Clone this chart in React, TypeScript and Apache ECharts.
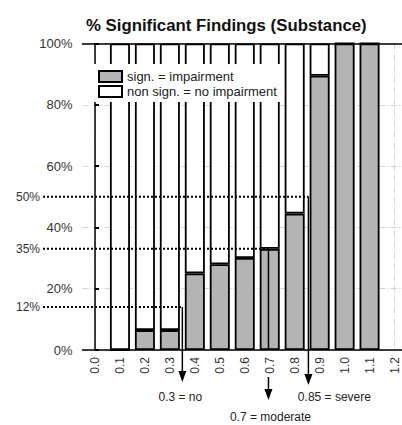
import React, { useEffect, useRef } from "react";
import * as echarts from "echarts";

const categories = ["0.0", "0.1", "0.2", "0.3", "0.4", "0.5", "0.6", "0.7", "0.8", "0.9", "1.0", "1.1", "1.2"];
const significant = [null, 0, 6.5, 6.5, 25, 28, 30, 33, 44.5, 89.5, 100, 100, null];
const nonSignificant = [null, 100, 93.5, 93.5, 75, 72, 70, 67, 55.5, 10.5, 0, 0, null];

const thresholdLabels = ["12%", "35%", "50%"];
const thresholdLevels = [14, 33, 50];
const cutoffNames = ["0.3 = no", "0.7 = moderate", "0.85 = severe"];
const cutoffPositions = [0.35, 0.695, 0.855];

const FONT = "'Liberation Sans', Arial, sans-serif";

export default function App() {
  const ref = useRef<HTMLDivElement>(null);

  useEffect(() => {
    if (!ref.current) return;
    const chart = echarts.init(ref.current, undefined, { renderer: "svg" });
    const gridLine = { show: true, lineStyle: { color: "#d4d4d4", width: 1, type: [6, 2, 1, 2] } };
    chart.setOption({
      animation: false,
      backgroundColor: "#fff",
      textStyle: { fontFamily: FONT },
      title: {
        text: "% Significant Findings (Substance)",
        left: 81,
        top: 12,
        textStyle: { fontSize: 16.8, fontWeight: "bold", color: "#111", fontFamily: FONT },
      },
      legend: {
        left: 88,
        top: 64,
        orient: "vertical",
        itemWidth: 23,
        itemHeight: 11,
        itemGap: 2,
        padding: [6, 4, 4, 10],
        backgroundColor: "#fff",
        icon: "rect",
        textStyle: { fontSize: 13, color: "#222", fontFamily: FONT },
        data: ["sign. = impairment", "non sign. = no impairment"],
      },
      grid: { left: 82.5, right: 3, top: 43.5, bottom: 75, containLabel: false },
      xAxis: [
        {
          type: "category",
          data: categories,
          position: "bottom",
          boundaryGap: true,
          axisLine: { lineStyle: { color: "#000", width: 1.5 } },
          axisTick: { inside: true, length: 4, alignWithLabel: true, lineStyle: { color: "#000", width: 2 } },
          axisLabel: { rotate: 90, fontSize: 12, color: "#333", margin: 7, fontFamily: FONT },
          splitLine: { ...gridLine, alignWithLabel: true },
        },
        {
          type: "category",
          data: categories,
          position: "top",
          boundaryGap: true,
          axisLine: { lineStyle: { color: "#000", width: 1.5 } },
          axisTick: { inside: true, length: 4, alignWithLabel: true, lineStyle: { color: "#000", width: 2 } },
          axisLabel: { show: false },
          splitLine: { show: false },
        },
        { type: "value", min: -0.05, max: 1.25, show: false },
      ],
      yAxis: [
        {
          type: "value",
          min: 0,
          max: 100,
          interval: 20,
          axisLine: { show: true, lineStyle: { color: "#000", width: 1.5 } },
          axisTick: { show: true, inside: true, length: 4, lineStyle: { color: "#000", width: 2 } },
          axisLabel: { formatter: "{value}%", fontSize: 13, color: "#333", margin: 10, fontFamily: FONT },
          splitLine: gridLine,
        },
      ],
      series: [
        {
          name: "sign. = impairment",
          type: "bar",
          stack: "a",
          barWidth: 20,
          data: significant,
          itemStyle: { color: "#b4b4b4", borderColor: "#000", borderWidth: 1.8 },
        },
        {
          name: "non sign. = no impairment",
          type: "bar",
          stack: "a",
          barWidth: 20,
          data: nonSignificant,
          itemStyle: { color: "#fff", borderColor: "#000", borderWidth: 1.8 },
        },
      ],
    });

    const y0 = chart.convertToPixel({ yAxisIndex: 0 }, 0) as number;
    const belowStart = [0, 27, 0];
    const tipOffset = [32, 50, 35];
    const labelDy = [47, 67, 47];
    const labelDx = [-2, 2, 26];
    const elements: any[] = [];
    thresholdLevels.forEach((lv, i) => {
      const y = chart.convertToPixel({ yAxisIndex: 0 }, lv) as number;
      const x = chart.convertToPixel({ xAxisIndex: 2 }, cutoffPositions[i]) as number;
      elements.push({
        type: "text",
        x: 40,
        y,
        z: 100,
        style: { text: thresholdLabels[i], align: "right", verticalAlign: "middle", fill: "#333", font: `12px ${FONT}` },
      });
      elements.push({
        type: "line",
        z: 100,
        shape: { x1: 43, y1: y, x2: x, y2: y },
        style: { stroke: "#000", lineWidth: 2, lineDash: [2, 2] },
      });
      elements.push({
        type: "line",
        z: 100,
        shape: { x1: x, y1: y, x2: x, y2: y0 },
        style: { stroke: "#000", lineWidth: 1.5 },
      });
      const tip = y0 + tipOffset[i];
      elements.push({
        type: "line",
        z: 100,
        shape: { x1: x, y1: y0 + belowStart[i], x2: x, y2: tip - 6 },
        style: { stroke: "#000", lineWidth: 1.5 },
      });
      elements.push({
        type: "polygon",
        z: 100,
        shape: { points: [[x - 4, tip - 11], [x + 4, tip - 11], [x, tip]] },
        style: { fill: "#000" },
      });
      elements.push({
        type: "text",
        x: x + labelDx[i],
        y: y0 + labelDy[i],
        z: 100,
        style: { text: cutoffNames[i], align: "center", verticalAlign: "middle", fill: "#222", font: `12px ${FONT}` },
      });
    });
    chart.setOption({ graphic: { elements } });

    return () => chart.dispose();
  }, []);

  return (
    <div style={{ position: "absolute", left: 0, top: 0, width: 402, height: 425, overflow: "hidden", background: "#fff" }}>
      <div ref={ref} style={{ width: 410, height: 425 }} />
    </div>
  );
}
